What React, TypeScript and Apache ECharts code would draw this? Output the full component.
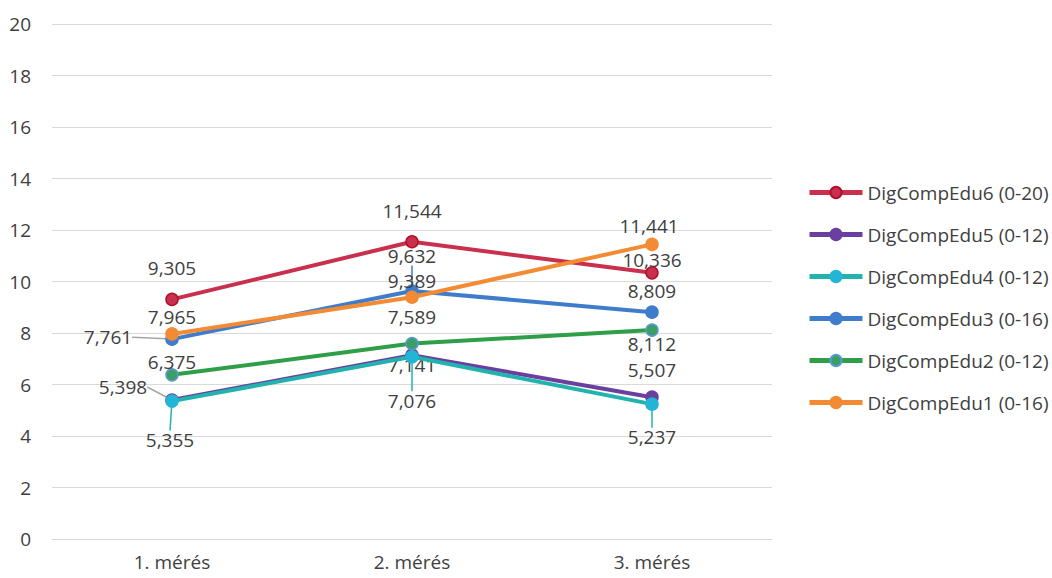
import React, { useEffect, useRef } from "react";
import * as echarts from "echarts";

const categories = ["1. mérés", "2. mérés", "3. mérés"];
const seriesNames = [
  "DigCompEdu6 (0-20)",
  "DigCompEdu5 (0-12)",
  "DigCompEdu4 (0-12)",
  "DigCompEdu3 (0-16)",
  "DigCompEdu2 (0-12)",
  "DigCompEdu1 (0-16)",
];
const edu6 = [9.305, 11.544, 10.336];
const edu5 = [5.398, 7.141, 5.507];
const edu4 = [5.355, 7.076, 5.237];
const edu3 = [7.761, 9.632, 8.809];
const edu2 = [6.375, 7.589, 8.112];
const edu1 = [7.965, 9.389, 11.441];
const yTicks = [0, 20, 2];

const lineColors = ["#C9304E", "#6B3FA0", "#22B3AE", "#3F7DCC", "#2F9E48", "#F28B34"];
const markerColors = ["#C9304E", "#6B3FA0", "#22B5D6", "#3F7DCC", "#3A9E66", "#F28B34"];
const markerBorders = ["#B0102C", "#6B3FA0", "#22B5D6", "#3F7DCC", "#5A9AD0", "#F28B34"];

// label offsets (dx, dy) relative to the point centre
const labelOffsets: number[][][] = [
  [[0, -31], [0, -31], [0, -13]],
  [[-49, -13], [0, 10], [0, -27]],
  [[-2, 39], [0, 44], [0, 33]],
  [[-64, -2], [0, -35], [0, -21]],
  [[0, -13], [0, -27], [0, 14]],
  [[0, -17], [0, -16], [-3, -18]],
];
// which points show a leader line, and its colour
const leaders: (string | null)[][] = [
  [null, null, null],
  ["#A6A6A6", null, null],
  ["#22B3AE", "#22B3AE", "#22B3AE"],
  ["#A6A6A6", "#3F7DCC", null],
  [null, null, null],
  [null, null, null],
];

const FONT = "'Open Sans', sans-serif";
const TEXT = "#404040";
const FS = 19;

export default function App() {
  const ref = useRef<HTMLDivElement>(null);
  useEffect(() => {
    if (!ref.current) return;
    const chart = echarts.init(ref.current, null, { renderer: "svg" });
    const all = [edu6, edu5, edu4, edu3, edu2, edu1];
    const fmt = (v: number) => v.toFixed(3).replace(".", ",");
    const series = all.map((vals, si) => ({
      name: seriesNames[si],
      type: "line",
      data: vals.map((v, di) => ({
        value: v,
        labelLine: leaders[si][di]
          ? { show: true, lineStyle: { color: leaders[si][di], width: 1.5 } }
          : { show: false },
      })),
      symbol: "circle",
      symbolSize: 12,
      lineStyle: { color: lineColors[si], width: 4 },
      itemStyle: {
        color: markerColors[si],
        borderColor: markerBorders[si],
        borderWidth: 1.5,
      },
      label: {
        show: true,
        position: "inside",
        formatter: (p: any) => fmt(p.value),
        color: TEXT,
        fontSize: FS,
        fontFamily: FONT,
      },
      labelLayout: (params: any) => {
        const o = labelOffsets[si][params.dataIndex];
        return { dx: o[0], dy: o[1] };
      },
      z: 2 + si,
    }));
    chart.setOption({
      animation: false,
      textStyle: { fontFamily: FONT },
      grid: { left: 52, right: 280, top: 24, bottom: 39 },
      xAxis: {
        type: "category",
        data: categories,
        boundaryGap: true,
        axisLine: { show: true, lineStyle: { color: "#D9D9D9", width: 1 } },
        axisTick: { show: false },
        axisLabel: { color: TEXT, fontSize: FS, fontFamily: FONT, margin: 13 },
      },
      yAxis: {
        type: "value",
        min: yTicks[0],
        max: yTicks[1],
        interval: yTicks[2],
        axisLine: { show: false },
        axisTick: { show: false },
        axisLabel: { color: TEXT, fontSize: FS, fontFamily: FONT, margin: 21 },
        splitLine: { lineStyle: { color: "#D9D9D9", width: 1 } },
      },
      legend: {
        orient: "vertical",
        left: 802,
        top: 178,
        itemWidth: 53,
        itemHeight: 14,
        itemGap: 23,
        lineStyle: { width: 5 },
        textStyle: { color: TEXT, fontSize: FS, fontFamily: FONT },
        data: seriesNames,
      },
      series,
    });
    return () => chart.dispose();
  }, []);
  return <div ref={ref} style={{ width: 1052, height: 578, position: "absolute", left: 0, top: 0 }} />;
}
